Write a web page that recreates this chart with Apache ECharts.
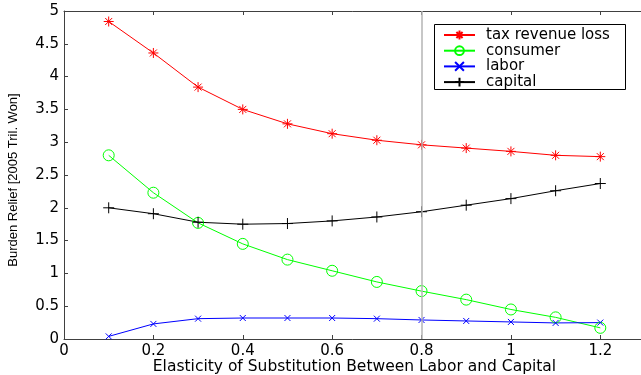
<!DOCTYPE html>
<html>
<head>
<meta charset="utf-8">
<script src="https://cdn.jsdelivr.net/npm/echarts@6/dist/echarts.min.js"></script>
<style>html,body{margin:0;padding:0;background:#fff}#c{width:641px;height:375px}</style>
</head>
<body>
<div id="c"></div>
<script>
const elasticity = [0.1, 0.2, 0.3, 0.4, 0.5, 0.6, 0.7, 0.8, 0.9, 1.0, 1.1, 1.2];
const taxRevenueLoss = [4.84, 4.36, 3.84, 3.50, 3.28, 3.13, 3.03, 2.96, 2.91, 2.86, 2.80, 2.78];
const consumer = [2.80, 2.23, 1.77, 1.45, 1.21, 1.04, 0.87, 0.73, 0.60, 0.45, 0.33, 0.17];
const labor = [0.04, 0.23, 0.31, 0.32, 0.32, 0.32, 0.31, 0.29, 0.275, 0.26, 0.245, 0.25];
const capital = [2.00, 1.91, 1.78, 1.75, 1.76, 1.80, 1.86, 1.94, 2.04, 2.14, 2.26, 2.37];
const seriesNames = ['tax revenue loss', 'consumer', 'labor', 'capital'];
const markerX = 0.8;

const FONT = 'DejaVu Sans';
const pts = (ys) => elasticity.map((x, i) => [x, ys[i]]);

const STAR = 'path://M0,5H10M5,0V10M1.5,1.5L8.5,8.5M8.5,1.5L1.5,8.5';
const PLUS = 'path://M0,5H10M5,0V10';
const CROSS = 'path://M0,0L10,10M10,0L0,10';

function mk(name, data, color, symbol, size) {
  return {
    name: name, type: 'line', data: pts(data), color: color,
    symbol: symbol, symbolSize: size, showSymbol: true,
    lineStyle: { color: color, width: 1 },
    itemStyle: { color: 'rgba(0,0,0,0)', borderColor: color, borderWidth: 1 },
    emphasis: { disabled: true }, animation: false, z: 3
  };
}

const chart = echarts.init(document.getElementById('c'), null, { renderer: 'canvas' });
const axisCol = '#404040';
const baseX = {
  type: 'value', min: 0, max: 1.3, interval: 0.2,
  axisLine: { show: true, onZero: false, lineStyle: { color: axisCol, width: 1 } },
  axisTick: { show: true, inside: true, length: 4, lineStyle: { color: axisCol } },
  splitLine: { show: false }
};
const baseY = {
  type: 'value', min: 0, max: 5, interval: 0.5,
  axisLine: { show: true, onZero: false, lineStyle: { color: axisCol, width: 1 } },
  axisTick: { show: true, inside: true, length: 4, lineStyle: { color: axisCol } },
  splitLine: { show: false }
};

const s0 = mk(seriesNames[0], taxRevenueLoss, '#ff0000', STAR, 10);
s0.markLine = {
  silent: true, symbol: 'none', animation: false,
  label: { show: false },
  lineStyle: { color: '#b4b4b4', width: 1.5, type: 'solid' },
  data: [{ xAxis: markerX }]
};

chart.setOption({
  animation: false,
  backgroundColor: '#fff',
  grid: { left: 64, right: -4, top: 11, bottom: 36, containLabel: false, outerBoundsMode: 'none' },
  xAxis: [
    Object.assign({}, baseX, {
      position: 'bottom',
      axisLabel: { show: true, showMaxLabel: false, margin: 5, color: '#000', fontFamily: FONT, fontSize: 15 },
      name: 'Elasticity of Substitution Between Labor and Capital',
      nameLocation: 'middle', nameGap: 20, nameMoveOverlap: false,
      nameTextStyle: { color: '#000', fontFamily: FONT, fontSize: 15.5 }
    }),
    Object.assign({}, baseX, { position: 'top', axisLabel: { show: false } })
  ],
  yAxis: [
    Object.assign({}, baseY, {
      position: 'left',
      axisLabel: { show: true, margin: 5, color: '#000', fontFamily: FONT, fontSize: 15 },
      name: 'Burden Relief [2005 Tril. Won]',
      nameLocation: 'middle', nameGap: 44, nameRotate: 90, nameMoveOverlap: false,
      nameTextStyle: { color: '#000', fontFamily: '"Liberation Sans", Arial', fontSize: 13, padding: [0, 10, 0, 0] }
    }),
    Object.assign({}, baseY, { position: 'right', axisLabel: { show: false } })
  ],
  graphic: [{
    type: 'rect', left: 434, top: 24, z: 9, silent: true,
    shape: { width: 191, height: 65 },
    style: { fill: '#fff', stroke: '#000', lineWidth: 1 }
  }],
  legend: {
    show: true, orient: 'vertical', left: 434, top: 24, z: 10,
    data: seriesNames,
    itemWidth: 31, itemHeight: 11, itemGap: 0.7,
    padding: [3.5, 15, 3.5, 9],
    borderWidth: 0, backgroundColor: 'transparent',
    textStyle: { color: '#000', fontFamily: FONT, fontSize: 15, padding: [0, 0, 0, 6] },
    selectedMode: false
  },
  series: [
    s0,
    mk(seriesNames[1], consumer, '#00ff00', 'circle', 11),
    mk(seriesNames[2], labor, '#0000ff', CROSS, 6),
    mk(seriesNames[3], capital, '#000000', PLUS, 11)
  ]
});
</script>
</body>
</html>
